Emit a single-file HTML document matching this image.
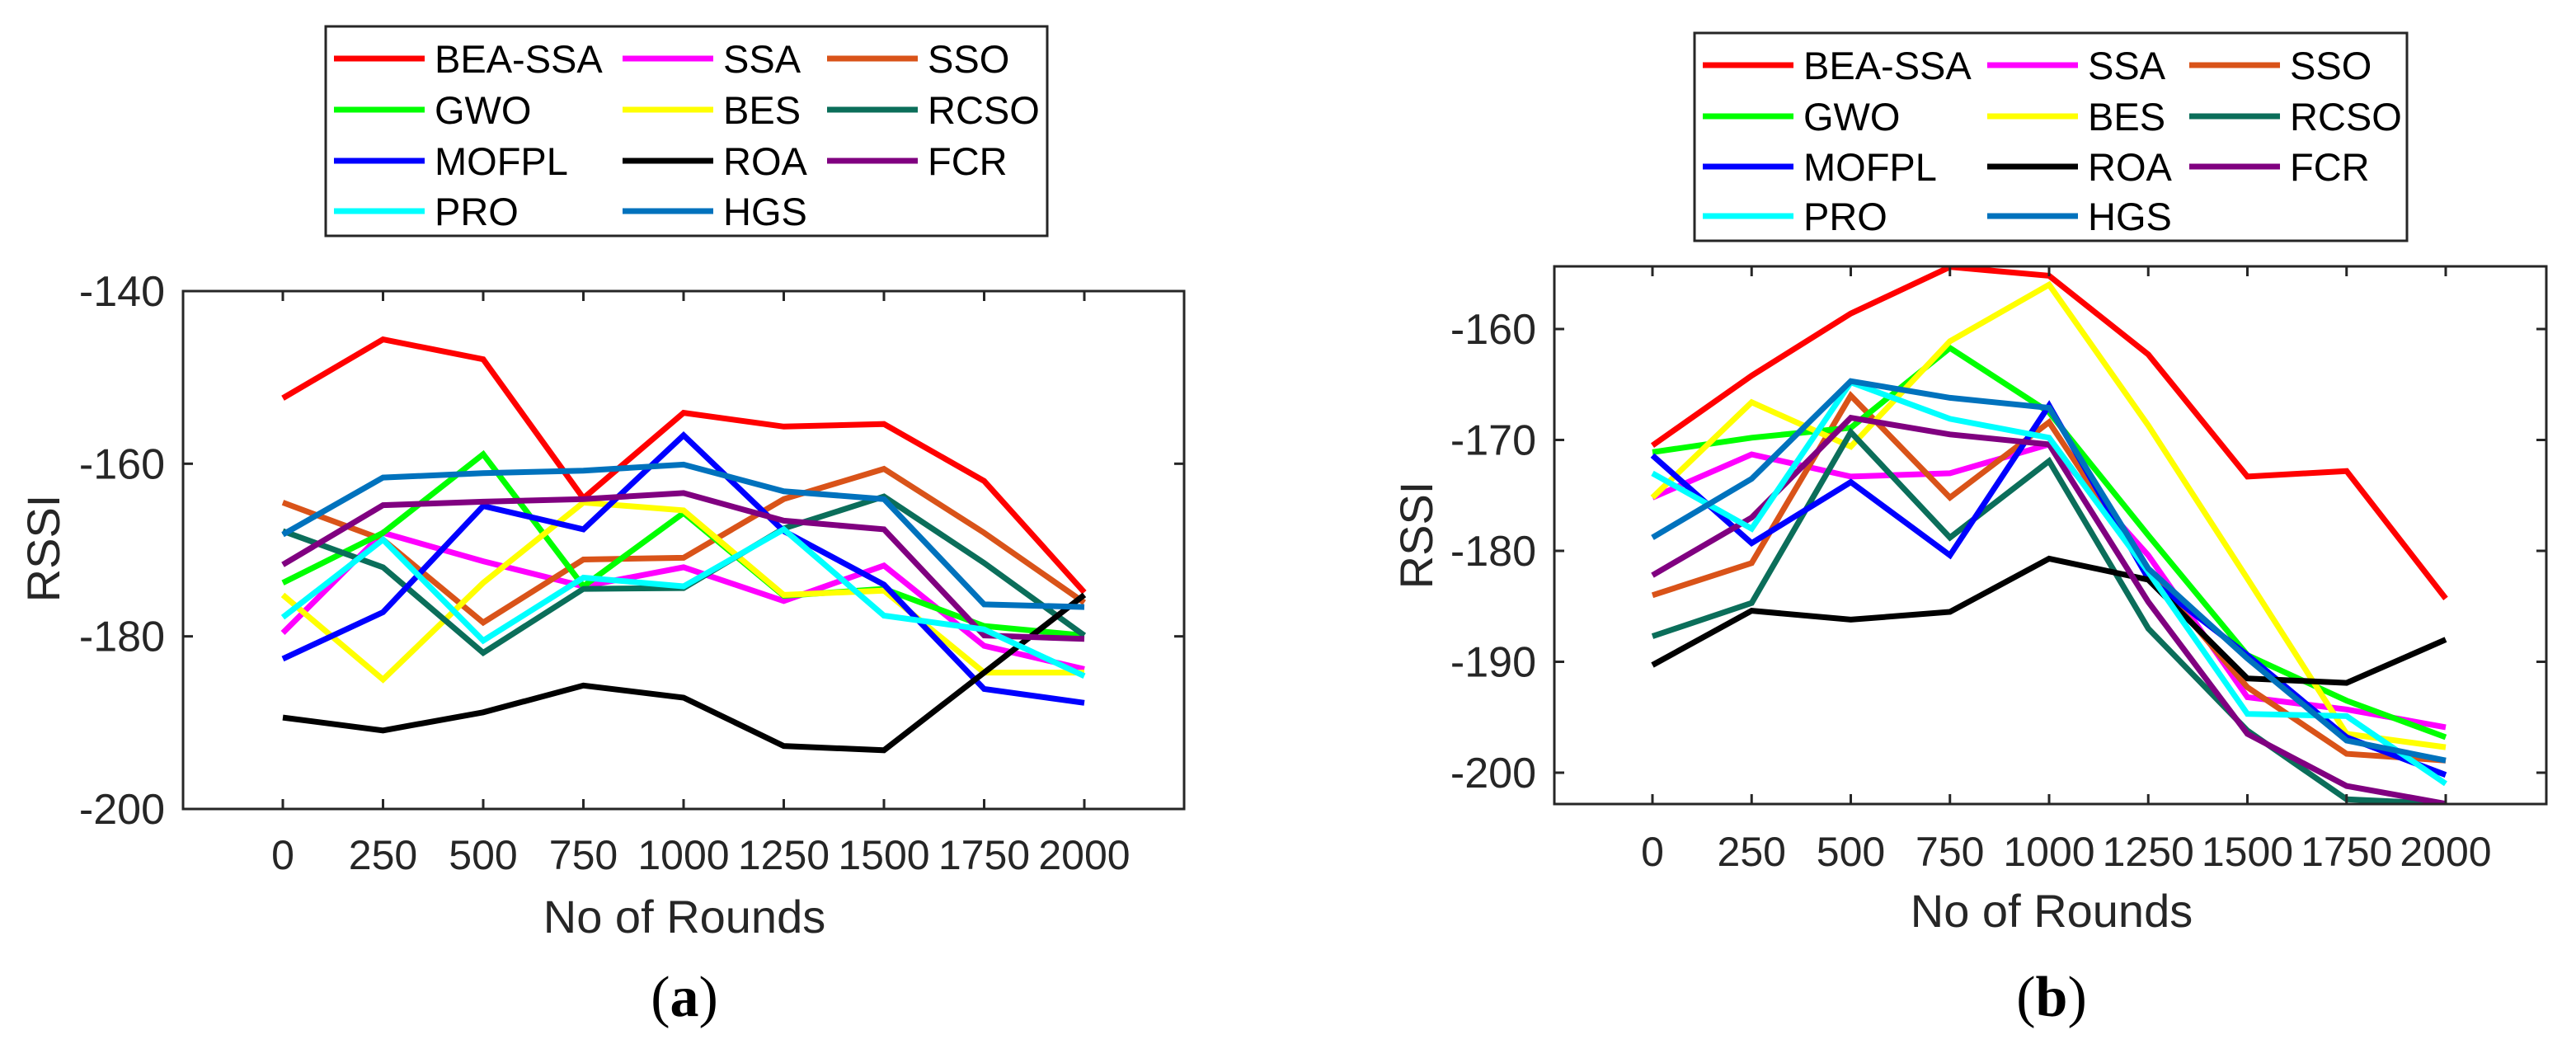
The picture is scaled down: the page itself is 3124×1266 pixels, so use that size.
<!DOCTYPE html>
<html><head><meta charset="utf-8"><style>
html,body{margin:0;padding:0;background:#fff;}
svg{display:block;}
text{font-family:"Liberation Sans",sans-serif;fill:#262626;}
</style></head><body>
<svg id="fig" width="3124" height="1266" viewBox="0 0 3124 1266" xmlns="http://www.w3.org/2000/svg"></svg>
<script>
const rounds = [0,250,500,750,1000,1250,1500,1750,2000];
const seriesNames = ["BEA-SSA","SSA","SSO","GWO","BES","RCSO","MOFPL","ROA","FCR","PRO","HGS"];
const seriesColors = ["#ff0000","#ff00ff","#d95319","#00ff00","#ffff00","#0b6e5a","#0000ff","#000000","#800080","#00ffff","#0072bd"];
// Panel (a) values
const aBEA  = [-152.4,-145.6,-147.9,-164,-154.1,-155.7,-155.4,-162,-174.9];
const aSSA  = [-179.6,-168,-171.3,-174.2,-172,-175.9,-171.8,-181.1,-183.8];
const aSSO  = [-164.5,-168.8,-178.4,-171.1,-170.9,-164.1,-160.6,-168,-176.1];
const aGWO  = [-173.8,-168,-158.9,-174.2,-165.7,-175.3,-174.5,-178.8,-179.9];
const aBES  = [-175.2,-185,-173.8,-164.5,-165.4,-175.2,-174.7,-184.2,-184.2];
const aRCSO = [-167.8,-172,-181.9,-174.5,-174.4,-167.5,-163.8,-171.5,-179.9];
const aMOFPL= [-182.6,-177.2,-164.9,-167.6,-156.7,-167.8,-174,-186.1,-187.7];
const aROA  = [-189.4,-190.9,-188.8,-185.7,-187.1,-192.7,-193.2,-184.2,-175.2];
const aFCR  = [-171.7,-164.8,-164.4,-164.1,-163.4,-166.6,-167.6,-179.9,-180.3];
const aPRO  = [-177.8,-168.8,-180.5,-173.2,-174.2,-167.6,-177.6,-179.2,-184.6];
const aHGS  = [-168.2,-161.6,-161.1,-160.8,-160.1,-163.2,-164.1,-176.3,-176.6];
// Panel (b) values
const bBEA  = [-170.5,-164.2,-158.6,-154.4,-155.2,-162.3,-173.3,-172.8,-184.3];
const bSSA  = [-175.2,-171.3,-173.3,-173,-170.4,-180.4,-193.2,-194.3,-195.9];
const bSSO  = [-184,-181.1,-166,-175.2,-168.4,-181.9,-192.3,-198.3,-198.9];
const bGWO  = [-171.1,-169.8,-168.9,-161.7,-167.5,-178.6,-189.4,-193.5,-196.8];
const bBES  = [-175.2,-166.6,-170.6,-161.1,-156,-168.7,-182.5,-196.5,-197.7];
const bRCSO = [-187.7,-184.7,-169.3,-178.8,-171.9,-187,-196.2,-202.4,-202.8];
const bMOFPL= [-171.4,-179.3,-173.8,-180.4,-166.9,-182.5,-189.4,-196.8,-200.2];
const bROA  = [-190.3,-185.4,-186.2,-185.5,-180.7,-182.6,-191.5,-191.9,-188];
const bFCR  = [-182.2,-177,-168,-169.5,-170.4,-184.6,-196.5,-201.2,-202.8];
const bPRO  = [-173,-178,-164.8,-168.1,-169.8,-181.9,-194.7,-194.9,-201];
const bHGS  = [-178.8,-173.5,-164.7,-166.2,-167.1,-181.6,-189.7,-197.1,-198.9];
const aTicks = [-140,-160,-180,-200];
const bTicks = [-160,-170,-180,-190,-200];

const NS="http://www.w3.org/2000/svg";
const svg=document.getElementById('fig');
function mk(tag,attrs,parent){const e=document.createElementNS(NS,tag);for(const k in attrs)e.setAttribute(k,attrs[k]);(parent||svg).appendChild(e);return e;}

function panel(cfg){
  const g=mk('g',{});
  
  
  const xs=v=>cfg.x0+(v-rounds[0])/(rounds[rounds.length-1]-rounds[0])*(cfg.x1-cfg.x0);
  const ys=v=>cfg.yTopPx+(cfg.yTopVal-v)/(cfg.yTopVal-cfg.yBotVal)*(cfg.yBotPx-cfg.yTopPx);
  const clipId=cfg.id+'-clip';
  const cp=mk('clipPath',{id:clipId},g);
  mk('rect',{x:cfg.L,y:cfg.T,width:cfg.R-cfg.L,height:cfg.B-cfg.T},cp);
  // series
  const lg=mk('g',{'clip-path':'url(#'+clipId+')'},g);
  cfg.data.forEach((arr,i)=>{
    const pts=arr.map((v,j)=>xs(rounds[j]).toFixed(1)+','+ys(v).toFixed(1)).join(' ');
    const pl=mk('polyline',{points:pts,fill:'none',stroke:seriesColors[i],'stroke-width':7,'stroke-linejoin':'miter'},lg);
    
    
  });
  // axes box
  const box=mk('rect',{x:cfg.L,y:cfg.T,width:cfg.R-cfg.L,height:cfg.B-cfg.T,fill:'none',stroke:'#262626','stroke-width':3},g);
  
  
  rounds.forEach(r=>{
    const x=xs(r);
    mk('line',{x1:x,x2:x,y1:cfg.B,y2:cfg.B-12,stroke:'#262626','stroke-width':3},g);
    mk('line',{x1:x,x2:x,y1:cfg.T,y2:cfg.T+12,stroke:'#262626','stroke-width':3},g);
    const t=mk('text',{x:x,y:cfg.xLabY,'text-anchor':'middle','font-size':50},g);
    t.textContent=r;
    
    
  });
  cfg.ticks.forEach(v=>{
    const y=ys(v);
    mk('line',{x1:cfg.L,x2:cfg.L+12,y1:y,y2:y,stroke:'#262626','stroke-width':3},g);
    mk('line',{x1:cfg.R,x2:cfg.R-12,y1:y,y2:y,stroke:'#262626','stroke-width':3},g);
    const t=mk('text',{x:cfg.L-22,y:y+18,'text-anchor':'end','font-size':52},g);
    t.textContent=v;
    
    
  });
  const xt=mk('text',{x:cfg.xTitleX,y:cfg.xTitleY,'text-anchor':'middle','font-size':56},g);
  xt.textContent='No of Rounds';
  
  
  const yt=mk('text',{x:0,y:0,'text-anchor':'middle','font-size':56,transform:'translate('+cfg.yTitleX+','+cfg.yTitleY+') rotate(-90)'},g);
  yt.textContent='RSSI';
  
  
  const cap=mk('text',{x:cfg.xTitleX,y:1232,'text-anchor':'middle','font-size':70,style:'font-family:"Liberation Serif",serif;fill:#000'},g);
  cap.innerHTML='(<tspan font-weight="bold">'+cfg.letter+'</tspan>)';
  
  
  // legend
  const leg=mk('g',{},g);
  
  
  mk('rect',{x:cfg.lg.x,y:cfg.lg.y,width:cfg.lg.w,height:cfg.lg.h,fill:'#fff',stroke:'#262626','stroke-width':3},leg);
  seriesNames.forEach((n,i)=>{
    const row=Math.floor(i/3), col=i%3;
    const lx=cfg.lg.cols[col], ly=cfg.lg.rows[row];
    const e=mk('g',{},leg);
    
    
    mk('line',{x1:lx,x2:lx+110,y1:ly,y2:ly,stroke:seriesColors[i],'stroke-width':7},e);
    const t=mk('text',{x:lx+122,y:ly+17,'font-size':47,style:'fill:#000'},e);
    t.textContent=n;
  });
}

panel({id:'panel-a',letter:'a',L:222,R:1436,T:353,B:981,x0:343,x1:1315,
  yTopPx:353,yTopVal:-140,yBotPx:981,yBotVal:-200,ticks:aTicks,
  data:[aBEA,aSSA,aSSO,aGWO,aBES,aRCSO,aMOFPL,aROA,aFCR,aPRO,aHGS],
  xLabY:1054,xTitleX:830,xTitleY:1131,yTitleX:72,yTitleY:665,
  lg:{x:395,y:32,w:875,h:254,cols:[405,755,1003],rows:[71,133,195,256]}});
panel({id:'panel-b',letter:'b',L:1885,R:3088,T:323,B:975,x0:2004,x1:2966,
  yTopPx:399,yTopVal:-160,yBotPx:937,yBotVal:-200,ticks:bTicks,
  data:[bBEA,bSSA,bSSO,bGWO,bBES,bRCSO,bMOFPL,bROA,bFCR,bPRO,bHGS],
  xLabY:1050,xTitleX:2488,xTitleY:1124,yTitleX:1737,yTitleY:649,
  lg:{x:2055,y:40,w:864,h:252,cols:[2065,2410,2655],rows:[79,141,202,262]}});
</script>
</body></html>
